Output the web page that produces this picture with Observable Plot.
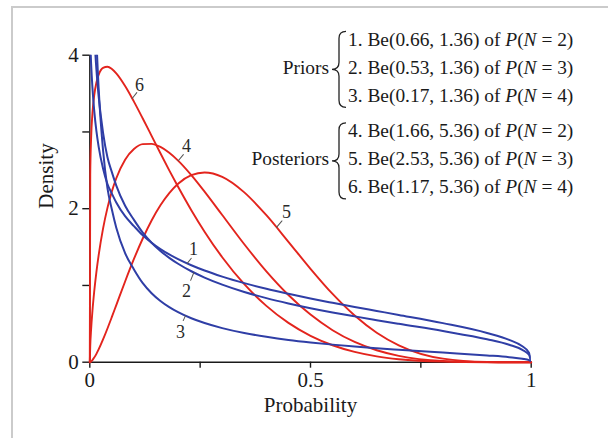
<!DOCTYPE html>
<html>
<head>
<meta charset="utf-8">
<script src="https://cdn.jsdelivr.net/npm/d3@7"></script>
<script src="https://cdn.jsdelivr.net/npm/@observablehq/plot@0.6"></script>
<style>
  html, body { margin: 0; padding: 0; background: #fff; }
  #figure { position: relative; width: 608px; height: 438px; overflow: hidden; background: #fff;
            font-family: "Liberation Serif", "Times New Roman", serif; color: #1a1a1a; }
  #figure > svg { position: absolute; left: 0; top: 0; }
  .panel-edge { position: absolute; left: 11px; top: 6px; width: 700px; height: 500px;
                border-left: 2px solid #cbcbcb; border-top: 2px solid #cbcbcb; }
  .key-line, .key-group { position: absolute; font-size: 19.4px; line-height: 19px; white-space: nowrap; }
  .key-group { text-align: right; }
</style>
</head>
<body>
<div id="figure"></div>
<script>
// Probability grid shared by all six density curves
const probability = [0, 0.001, 0.003, 0.006, 0.01, 0.015, 0.02, 0.03, 0.04, 0.05, 0.06, 0.08,
  0.1, 0.12, 0.14, 0.16, 0.18, 0.2, 0.23, 0.26, 0.3, 0.35, 0.4, 0.45, 0.5, 0.55, 0.6, 0.65,
  0.7, 0.8, 0.9, 0.95, 0.98, 0.995, 1];

// Prior densities (blue)
const prior1 = [4.334, 4.163, 3.885, 3.575, 3.278, 3.010, 2.810, 2.524, 2.322, 2.197, 2.081, 1.902,
  1.773, 1.653, 1.556, 1.474, 1.404, 1.343, 1.263, 1.194, 1.115, 1.030, 0.956, 0.891, 0.830, 0.774,
  0.720, 0.668, 0.616, 0.509, 0.381, 0.291, 0.207, 0.125, 0];
const prior2 = [6.293, 5.952, 5.413, 4.827, 4.283, 3.810, 3.467, 2.992, 2.671, 2.477, 2.301, 2.038,
  1.854, 1.688, 1.557, 1.450, 1.360, 1.283, 1.185, 1.103, 1.011, 0.915, 0.835, 0.766, 0.704, 0.648,
  0.597, 0.548, 0.500, 0.406, 0.299, 0.227, 0.161, 0.097, 0];
const prior3 = [10.18, 9.231, 7.809, 6.385, 5.176, 4.215, 3.574, 2.763, 2.268, 1.989, 1.752, 1.420,
  1.209, 1.030, 0.899, 0.798, 0.718, 0.652, 0.572, 0.510, 0.444, 0.380, 0.331, 0.290, 0.257, 0.229,
  0.204, 0.182, 0.162, 0.125, 0.088, 0.066, 0.046, 0.028, 0];

// Posterior densities (red)
const post4 = [0, 0.210, 0.429, 0.669, 0.921, 1.177, 1.392, 1.740, 2.011, 2.226, 2.397, 2.639,
  2.778, 2.841, 2.845, 2.805, 2.729, 2.627, 2.438, 2.223, 1.918, 1.537, 1.184, 0.876, 0.620, 0.417,
  0.264, 0.156, 0.083, 0.016, 0.001, 0, 0, 0, 0];
const post5 = [0, 0.002, 0.010, 0.028, 0.060, 0.109, 0.166, 0.296, 0.439, 0.590, 0.744, 1.052,
  1.345, 1.612, 1.846, 2.044, 2.203, 2.325, 2.437, 2.472, 2.415, 2.213, 1.915, 1.569, 1.217, 0.889,
  0.608, 0.384, 0.220, 0.046, 0.003, 0, 0, 0, 0];
const post6 = [0, 2.446, 2.923, 3.246, 3.478, 3.645, 3.744, 3.835, 3.850, 3.820, 3.763, 3.598,
  3.395, 3.175, 2.949, 2.722, 2.500, 2.286, 1.981, 1.701, 1.368, 1.017, 0.734, 0.512, 0.344, 0.221,
  0.134, 0.076, 0.039, 0.007, 0, 0, 0, 0, 0];

// Key entries: Be(a, b) of P(N = n)
const seriesId = [1, 2, 3, 4, 5, 6];
const shapeA = [0.66, 0.53, 0.17, 1.66, 2.53, 1.17];
const shapeB = [1.36, 1.36, 1.36, 5.36, 5.36, 5.36];
const trialsN = [2, 3, 4, 2, 3, 4];
const groupNames = ["Priors", "Posteriors"];

// Where each curve number sits along its curve
const labelProbability = [0.2207, 0.2357, 0.2169, 0.2003, 0.423, 0.096];

// Axis ticks
const xTickValues = [0, 0.25, 0.5, 0.75, 1];
const xTickText = ["0", "", "0.5", "", "1"];
const yTickValues = [0, 1, 2, 3, 4];
const yTickText = ["0", "", "2", "", "4"];

// ---- drawing ----
const blue = "#2f3ea6", red = "#e3241d", ink = "#1a1a1a";
const seriesValues = [prior1, prior2, prior3, post4, post5, post6];

const rowsFor = (ids) => ids.flatMap(k =>
  probability.map((p, i) => ({p, density: seriesValues[k][i], id: seriesId[k]})));
const priorRows = rowsFor([0, 1, 2]);
const posteriorRows = rowsFor([3, 4, 5]);

function densityAt(values, p) {
  const i = Math.min(d3.bisectRight(probability, p) - 1, probability.length - 2);
  const t = (p - probability[i]) / (probability[i + 1] - probability[i]);
  return values[i] + t * (values[i + 1] - values[i]);
}

// leader direction (degrees clockwise from up), leader length and number offset, in pixels
const leaderLayout = [
  {rotate: 39, length: 6.5, dx: 6.3, dy: -14.3},
  {rotate: 202, length: 8.5, dx: -7.3, dy: 18.3},
  {rotate: 205, length: 5.5, dx: -5, dy: 16.3},
  {rotate: 40, length: 8, dx: 8.3, dy: -14.5},
  {rotate: 40, length: 8.5, dx: 10, dy: -15.5},
  {rotate: 38, length: 7.5, dx: 7.3, dy: -13}
];
const leaderShape = {draw(context, l) { context.moveTo(0, 0); context.lineTo(0, -l); }};

const labelMarks = seriesId.flatMap((id, k) => {
  const row = [{p: labelProbability[k], density: densityAt(seriesValues[k], labelProbability[k]), text: String(id)}];
  const L = leaderLayout[k];
  return [
    Plot.vector(row, {x: "p", y: "density", rotate: L.rotate, length: L.length, anchor: "start",
      shape: leaderShape, stroke: "#555", strokeWidth: 1}),
    Plot.text(row, {x: "p", y: "density", text: "text", dx: L.dx, dy: L.dy, fontSize: 18, fill: "#2a2a2a"})
  ];
});

const chart = Plot.plot({
  width: 608,
  height: 438,
  marginLeft: 89.3,
  marginRight: 77.3,
  marginTop: 54.7,
  marginBottom: 76.3,
  x: {domain: [0, 1]},
  y: {domain: [0, 4]},
  style: {fontFamily: "'Liberation Serif', 'Times New Roman', serif", fontSize: "21px", color: ink, background: "transparent", overflow: "visible"},
  marks: [
    Plot.ruleX([0], {stroke: ink, strokeWidth: 1.4}),
    Plot.ruleY([0], {stroke: ink, strokeWidth: 1.4}),
    Plot.axisX(xTickValues, {tickSize: 6, tickPadding: 4, strokeWidth: 1.4, stroke: ink, fill: ink,
      tickFormat: d => xTickText[xTickValues.indexOf(d)], label: null, fontSize: 21}),
    Plot.axisY(yTickValues, {tickSize: 7, tickPadding: 4, strokeWidth: 1.4, stroke: ink, fill: ink,
      tickFormat: d => yTickText[yTickValues.indexOf(d)], label: null, fontSize: 21}),
    Plot.text(["Density"], {text: d => d, frameAnchor: "left", dx: -44, rotate: -90, fontSize: 21, fill: ink}),
    Plot.text(["Probability"], {text: d => d, frameAnchor: "bottom", dy: 50, fontSize: 21, fill: ink}),
    Plot.line(posteriorRows, {x: "p", y: "density", z: "id", stroke: red, strokeWidth: 1.9, curve: "monotone-x"}),
    Plot.line(priorRows, {x: "p", y: "density", z: "id", stroke: blue, strokeWidth: 2, curve: "monotone-x", clip: true}),
    ...labelMarks
  ]
});

const figure = document.getElementById("figure");
figure.appendChild(chart);

const edge = document.createElement("div");
edge.className = "panel-edge";
figure.appendChild(edge);

// ---- key: numbered Be(a, b) entries grouped under braces ----
const keyLeft = 348, keyTop0 = 29.8, keyStep = 28, groupGap = 7.6;
const lineTop = i => keyTop0 + i * keyStep + (i >= 3 ? groupGap : 0);

seriesId.forEach((id, i) => {
  const div = document.createElement("div");
  div.className = "key-line";
  div.style.left = keyLeft + "px";
  div.style.top = lineTop(i) + "px";
  div.innerHTML = `${id}. Be(${shapeA[i].toFixed(2)}, ${shapeB[i].toFixed(2)}) of <i>P</i>(<i>N</i> = ${trialsN[i]})`;
  figure.appendChild(div);
});

const ns = "http://www.w3.org/2000/svg";
const braces = document.createElementNS(ns, "svg");
braces.setAttribute("width", 608);
braces.setAttribute("height", 438);
braces.style.position = "absolute";
braces.style.left = "0";
braces.style.top = "0";
figure.appendChild(braces);

function bracePath(xr, xl, y0, y1) {
  const xs = (xr + xl) / 2, ym = (y0 + y1) / 2;
  return `M${xr},${y0} Q${xs},${y0} ${xs},${y0 + 7} L${xs},${ym - 7} Q${xs},${ym} ${xl},${ym} ` +
         `Q${xs},${ym} ${xs},${ym + 7} L${xs},${y1 - 7} Q${xs},${y1} ${xr},${y1}`;
}

groupNames.forEach((name, g) => {
  const first = g * 3, mid = first + 1, last = first + 2;
  const y0 = lineTop(first) + 1.5, y1 = lineTop(last) + 21.5;
  const path = document.createElementNS(ns, "path");
  path.setAttribute("d", bracePath(346, 332, y0, y1));
  path.setAttribute("fill", "none");
  path.setAttribute("stroke", "#222");
  path.setAttribute("stroke-width", "1.3");
  braces.appendChild(path);

  const div = document.createElement("div");
  div.className = "key-group";
  div.style.right = (608 - 329) + "px";
  div.style.top = lineTop(mid) + "px";
  div.textContent = name;
  figure.appendChild(div);
});
</script>
</body>
</html>
